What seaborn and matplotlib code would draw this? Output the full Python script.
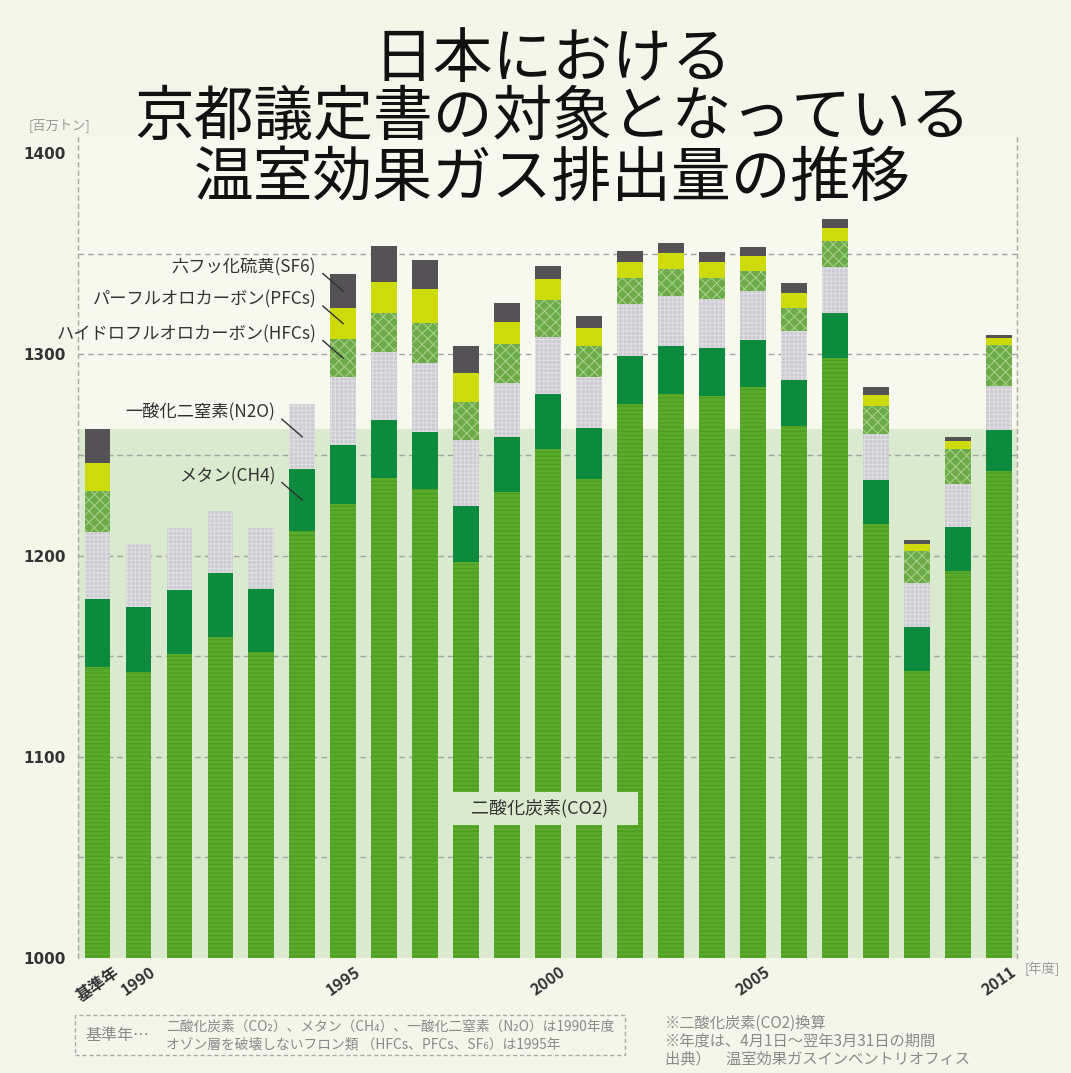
import matplotlib.pyplot as plt
import pandas as pd
import seaborn as sns
from matplotlib.patches import Rectangle

# -------------------------------------------------------
# Global Configuration
# -------------------------------------------------------

sns.set_theme(style="white")
plt.rcParams["font.family"] = ["Noto Sans CJK JP", "DejaVu Sans"]
plt.rcParams["hatch.linewidth"] = 0.8

# -------------------------------------------------------
# Data (百万トン, CO2換算)
# -------------------------------------------------------

YEARS = ["基準年", "1990", "1991", "1992", "1993", "1994", "1995", "1996",
         "1997", "1998", "1999", "2000", "2001", "2002", "2003", "2004",
         "2005", "2006", "2007", "2008", "2009", "2010", "2011"]

TICK_LABELS = ["基準年", "1990", "", "", "", "", "1995", "", "", "", "",
               "2000", "", "", "", "", "2005", "", "", "", "", "", "2011"]

CO2 = [1144.7, 1142.3, 1151.1, 1159.7, 1151.9, 1212.2, 1225.4, 1238.4,
       1232.9, 1196.9, 1231.7, 1252.8, 1238.0, 1275.3, 1280.2, 1279.4,
       1283.9, 1264.3, 1298.0, 1215.7, 1142.6, 1192.3, 1242.1]
CH4 = [33.5, 32.0, 31.8, 31.5, 31.5, 30.6, 29.5, 28.9, 28.3, 27.7, 27.3,
       27.4, 25.2, 24.0, 24.0, 23.9, 23.2, 22.9, 22.3, 21.8, 21.9, 21.9, 20.3]
N2O = [33.6, 31.4, 30.9, 30.9, 30.4, 32.3, 33.6, 34.0, 34.6, 32.8, 26.6,
       28.2, 25.6, 25.5, 24.7, 24.2, 24.3, 24.5, 22.9, 22.7, 21.8, 21.3, 21.8]
HFCS = [20.2, None, None, None, None, None, 19.1, 19.3, 19.9, 19.0, 19.5,
        18.6, 15.5, 12.9, 13.5, 10.2, 10.0, 11.4, 13.2, 14.2, 15.9, 17.4, 20.4]
PFCS = [14.1, None, None, None, None, None, 15.2, 15.4, 16.6, 14.1, 11.1,
        10.2, 8.9, 8.3, 7.8, 8.3, 7.4, 7.5, 6.5, 5.4, 3.5, 4.1, 3.3]
SF6 = [16.6, None, None, None, None, None, 17.1, 17.8, 14.5, 13.6, 9.1,
       6.7, 5.8, 5.3, 4.9, 5.0, 4.6, 4.7, 4.6, 4.1, 2.0, 2.0, 1.7]

GASES = ["CO2", "CH4", "N2O", "HFCs", "PFCs", "SF6"]

FACE_COLORS = {"CO2": "#5aab2b", "CH4": "#0c8a3e", "N2O": "#cbcbd0",
               "HFCs": "#6dab48", "PFCs": "#cddb0c", "SF6": "#545254"}
HATCHES = {"CO2": "----", "CH4": None, "N2O": "++++",
           "HFCs": "xxx", "PFCs": None, "SF6": None}
HATCH_COLORS = {"CO2": "#4c9a22", "CH4": "#0c8a3e", "N2O": "#e0e0e4",
                "HFCs": "#a6cf86", "PFCs": "#cddb0c", "SF6": "#545254"}

# label, bar index, gas
ANNOTATIONS = [
    ("六フッ化硫黄(SF6)", 6, "SF6"),
    ("パーフルオロカーボン(PFCs)", 6, "PFCs"),
    ("ハイドロフルオロカーボン(HFCs)", 6, "HFCs"),
    ("一酸化二窒素(N2O)", 5, "N2O"),
    ("メタン(CH4)", 5, "CH4"),
]

TITLE_LINES = ["日本における", "京都議定書の対象となっている", "温室効果ガス排出量の推移"]
Y_TICKS = [1000, 1100, 1200, 1300, 1400]
GRID_LEVELS = [1050, 1100, 1150, 1200, 1250, 1300, 1350]

NOTES_LEFT = ["二酸化炭素（CO₂）、メタン（CH₄）、一酸化二窒素（N₂O）は1990年度",
              "オゾン層を破壊しないフロン類 （HFCs、PFCs、SF₆）は1995年"]
NOTES_RIGHT = ["※二酸化炭素(CO2)換算",
               "※年度は、4月1日～翌年3月31日の期間",
               "出典）　温室効果ガスインベントリオフィス"]

FIG_BG = "#f3f6e9"
PLOT_BG = "#f7f9ef"
BAND = "#d9eace"
TEXT = "#333333"
NOTE = "#8a8a8a"

df = pd.DataFrame({"year": YEARS, "CO2": CO2, "CH4": CH4, "N2O": N2O,
                   "HFCs": HFCS, "PFCs": PFCS, "SF6": SF6})
df[GASES] = df[GASES].astype(float)
tops = df[GASES].cumsum(axis=1)

# -------------------------------------------------------
# Figure
# -------------------------------------------------------

fig = plt.figure(figsize=(10.71, 10.73), dpi=100, facecolor=FIG_BG)
ax = fig.add_axes([0.0728, 0.1072, 0.8768, 0.7651])
ax.set_facecolor(PLOT_BG)

# base-year level band
ax.axhspan(1000, tops.loc[0, "SF6"], color=BAND, lw=0, zorder=0.5)

for level in GRID_LEVELS:
    ax.axhline(level, color="#a3a3a3", lw=1, ls=(0, (4, 3)), zorder=0.8)

# stacked bars: draw cumulative totals from the top layer down
for gas in reversed(GASES):
    sns.barplot(
        x=df["year"],
        y=tops[gas],
        order=YEARS,
        color=FACE_COLORS[gas],
        saturation=1,
        width=0.63,
        errorbar=None,
        hatch=HATCHES[gas],
        edgecolor=HATCH_COLORS[gas],
        linewidth=0,
        zorder=2,
        ax=ax
    )

ax.set_xlim(-0.476, 22.44)
ax.set_ylim(1000, 1408)
ax.set_xlabel("")
ax.set_ylabel("")

ax.set_yticks(Y_TICKS)
ax.set_yticklabels([str(t) for t in Y_TICKS], fontsize=11,
                   fontweight="bold", color=TEXT, family="DejaVu Sans")
ax.set_xticks(range(len(YEARS)))
ax.set_xticklabels(TICK_LABELS, rotation=35, ha="center", fontsize=11.5,
                   fontweight="bold", color=TEXT)
ax.tick_params(axis="y", length=0, pad=9)
ax.tick_params(axis="x", length=0, pad=4)

for side in ["top", "bottom"]:
    ax.spines[side].set_visible(False)
for side in ["left", "right"]:
    ax.spines[side].set_color("#a8a8a8")
    ax.spines[side].set_linestyle((0, (3, 3)))
    ax.spines[side].set_linewidth(1)

# leader-line labels
for label, idx, gas in ANNOTATIONS:
    top = tops.loc[idx, gas]
    mid = top - df.loc[idx, gas] / 2
    ax.annotate(
        label,
        xy=(idx, mid),
        xytext=(-19.5, 17.5),
        textcoords="offset points",
        ha="right",
        va="center",
        fontsize=12.4,
        color=TEXT,
        zorder=6,
        arrowprops=dict(arrowstyle="-", color=TEXT, lw=1,
                        shrinkA=3, shrinkB=0, relpos=(1, 0.45))
    )

# CO2 label with band-coloured box cutting the bars
co2_x, co2_y = 10.8, 1074.3
ax.add_patch(Rectangle((co2_x - 2.4, co2_y - 8.2), 4.8, 16.4,
                       facecolor=BAND, edgecolor="none", zorder=4))
ax.text(co2_x, co2_y, "二酸化炭素(CO2)", ha="center", va="center",
        fontsize=13, color=TEXT, zorder=5)

# title
for line, y in zip(TITLE_LINES, [0.944, 0.890, 0.833]):
    fig.text(0.516, y, line, ha="center", va="center", fontsize=43,
             color="#111111")

fig.text(0.056, 0.8835, "[百万トン]", ha="center", va="center",
         fontsize=9.5, color="#999999")
fig.text(0.973, 0.0975, "[年度]", ha="center", va="center",
         fontsize=9.5, color="#999999")

# footer notes
fig.patches.append(Rectangle((0.070, 0.0168), 0.514, 0.0372,
                             transform=fig.transFigure, fill=False,
                             edgecolor="#aaaaaa", lw=1, ls=(0, (3, 2))))
fig.text(0.080, 0.035, "基準年…", ha="left", va="center",
         fontsize=11.5, color=NOTE)
for line, y in zip(NOTES_LEFT, [0.0435, 0.027]):
    fig.text(0.155, y, line, ha="left", va="center", fontsize=9.9,
             color=NOTE)

for line, y in zip(NOTES_RIGHT, [0.0465, 0.030, 0.0135]):
    fig.text(0.621, y, line, ha="left", va="center", fontsize=11,
             color=NOTE)

plt.savefig("out.png", dpi=100, facecolor=FIG_BG)
plt.close()
